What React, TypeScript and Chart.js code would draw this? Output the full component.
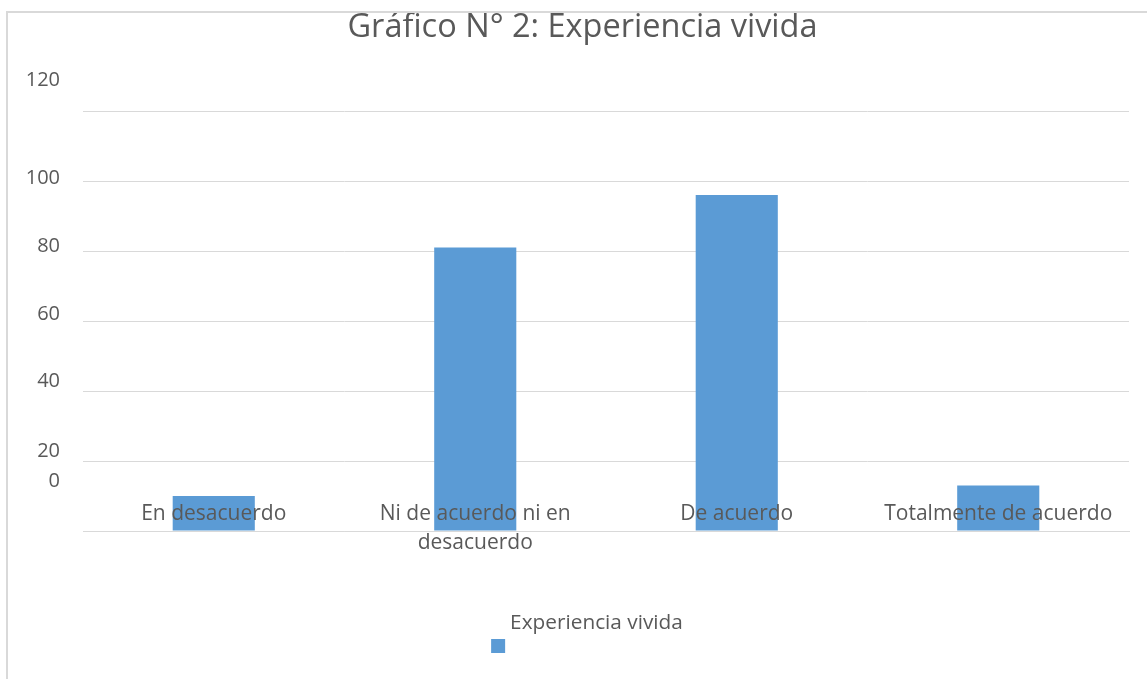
import React, { useEffect, useRef } from "react";
import { Chart, registerables } from "chart.js";

Chart.register(...registerables);

const chartTitle = "Gráfico N° 2: Experiencia vivida";
const seriesName = "Experiencia vivida";
const categories: (string | string[])[] = [
  "En desacuerdo",
  ["Ni de acuerdo ni en", "desacuerdo"],
  "De acuerdo",
  "Totalmente de acuerdo",
];
const values = [10, 81, 96, 13];
const yMin = 0;
const yMax = 120;
const yStep = 20;

// style: vertical shift of each y tick label relative to its gridline (as in the reference)
const Y_LABEL_SHIFT: Record<number, number> = {
  0: -50,
  20: -10,
  40: -9.5,
  60: -6.5,
  80: -5,
  100: -3,
  120: -31,
};

const TEXT = "#595959";
const GRID = "#d9d9d9";
const BAR = "#5B9BD5";
const FONT = "'Open Sans'";

const yLabelPlugin = {
  id: "yLabels",
  afterDraw(chart: any) {
    const { ctx } = chart;
    const y = chart.scales.y;
    ctx.save();
    ctx.font = `20px ${FONT}`;
    ctx.fillStyle = TEXT;
    ctx.textAlign = "right";
    ctx.textBaseline = "middle";
    y.ticks.forEach((t: any) => {
      const py = y.getPixelForValue(t.value) + (Y_LABEL_SHIFT[t.value] ?? 0);
      ctx.fillText(String(t.value), chart.chartArea.left - 23, py);
    });
    ctx.restore();
  },
};

const legendPlugin = {
  id: "customLegend",
  afterDraw(chart: any) {
    const { ctx, chartArea } = chart;
    const ds = chart.data.datasets[0];
    ctx.save();
    ctx.font = `20.8px ${FONT}`;
    const tw = ctx.measureText(ds.label).width;
    const box = 14;
    const gap = 5;
    const cx = (chartArea.left + chartArea.right) / 2 - 19;
    const startX = cx - (box + gap + tw) / 2;
    const textY = chartArea.bottom + 92;
    ctx.fillStyle = ds.backgroundColor;
    ctx.fillRect(startX, chartArea.bottom + 108, box, box);
    ctx.fillStyle = TEXT;
    ctx.textAlign = "left";
    ctx.textBaseline = "middle";
    ctx.fillText(ds.label, startX + box + gap, textY);
    ctx.restore();
  },
};

export default function App() {
  const ref = useRef<HTMLCanvasElement | null>(null);

  useEffect(() => {
    if (!ref.current) return;
    Chart.defaults.font.family = FONT;
    const chart = new Chart(ref.current, {
      type: "bar",
      data: {
        labels: categories,
        datasets: [
          {
            label: seriesName,
            data: values,
            backgroundColor: BAR,
            barPercentage: 0.314,
            categoryPercentage: 1,
          },
        ],
      },
      options: {
        animation: false,
        responsive: true,
        maintainAspectRatio: false,
        layout: { padding: { left: 36, right: 18, top: 0, bottom: 0 } },
        plugins: {
          legend: { display: false },
          tooltip: { enabled: false },
          title: {
            display: true,
            text: chartTitle,
            color: TEXT,
            font: { size: 32.5, weight: "normal", family: FONT, lineHeight: 1.2 },
            padding: { top: 8.5, bottom: 63.5 },
          },
        },
        scales: {
          x: {
            grid: { display: false, drawTicks: false },
            border: { display: true, color: GRID, width: 1 },
            ticks: {
              color: TEXT,
              font: { size: 21, family: FONT, lineHeight: 1.38 },
              mirror: true,
              padding: 2.5,
              maxRotation: 0,
              autoSkip: false,
              z: 1,
            },
            afterFit: (scale: any) => {
              scale.height = 148;
            },
          },
          y: {
            min: yMin,
            max: yMax,
            grid: { color: GRID, lineWidth: 1, drawTicks: false },
            border: { display: false },
            ticks: { display: false, stepSize: yStep },
            afterFit: (scale: any) => {
              scale.width = 47;
            },
          },
        },
      },
      plugins: [yLabelPlugin, legendPlugin],
    });
    return () => chart.destroy();
  }, []);

  return (
    <>
      <div style={{ position: "fixed", left: 0, top: 0, width: 1147, height: 679, background: "#fff" }}>
        <canvas ref={ref} />
      </div>
      <div
        style={{
          position: "fixed",
          left: 6,
          top: 11,
          width: 2000,
          height: 2000,
          borderLeft: `2px solid ${GRID}`,
          borderTop: `2px solid ${GRID}`,
          pointerEvents: "none",
        }}
      />
    </>
  );
}
